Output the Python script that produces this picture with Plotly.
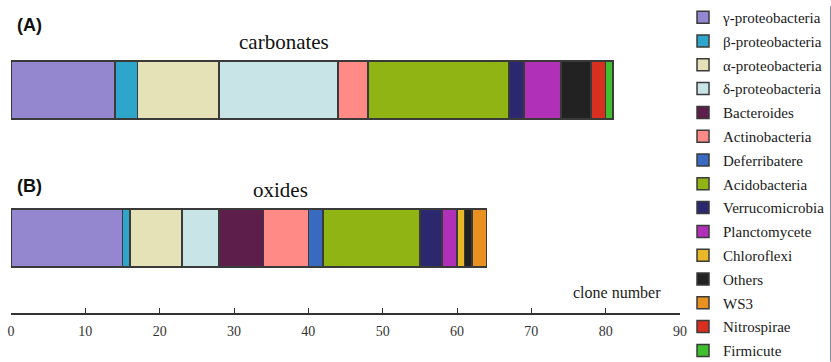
import plotly.graph_objects as go

groups = ["oxides", "carbonates"]
phyla = ["γ-proteobacteria", "β-proteobacteria", "α-proteobacteria", "δ-proteobacteria",
         "Bacteroides", "Actinobacteria", "Deferribatere", "Acidobacteria",
         "Verrucomicrobia", "Planctomycete", "Chloroflexi", "Others", "WS3",
         "Nitrospirae", "Firmicute"]
carbonates = [14, 3, 11, 16, 0, 4, 0, 19, 2, 5, 0, 4, 0, 2, 1]
oxides = [15, 1, 7, 5, 6, 6, 2, 13, 3, 2, 1, 1, 2, 0, 0]
colors = ["#9487d0", "#2ea6cc", "#e6e2b8", "#c8e4e6", "#5e1e4c", "#ff8a86",
          "#3a6abf", "#8fb414", "#2c2870", "#b030b8", "#e8b828", "#222222",
          "#e89020", "#d83020", "#40c030"]
tick_vals = [0, 10, 20, 30, 40, 50, 60, 70, 80, 90]

fig = go.Figure()
for i, name in enumerate(phyla):
    vals = [oxides[i] or None, carbonates[i] or None]
    fig.add_trace(go.Bar(
        y=groups, x=vals, name=name, orientation="h", width=0.39,
        legendgroup=name,
        marker=dict(color=colors[i], line=dict(color="#3a3a3a", width=1.5)),
    ))

serif = "Liberation Serif, Times New Roman, serif"
fig.update_layout(
    width=831, height=362,
    margin=dict(l=11, r=151, t=0, b=49, autoexpand=False),
    barmode="stack",
    plot_bgcolor="white", paper_bgcolor="white",
    showlegend=True,
    legend=dict(x=1.0045, y=0.997, xanchor="left", yanchor="top",
                traceorder="grouped", font=dict(family=serif, size=15, color="#1a1a1a"),
                tracegroupgap=1.3, itemwidth=30, bgcolor="rgba(0,0,0,0)",
                maxheight=362),
    xaxis=dict(range=[0, 90], tickvals=tick_vals, ticks="inside", ticklen=5,
               tickcolor="#333", showline=True, linecolor="#333", linewidth=1.5,
               showgrid=False, zeroline=False, ticklabelstandoff=4,
               tickfont=dict(family=serif, size=14, color="#333")),
    yaxis=dict(range=[-0.507, 1.608], showticklabels=False, showgrid=False,
               zeroline=False, showline=False, ticks=""),
)

ann = [
    dict(text="<b>(A)</b>", x=15, y=25, font=dict(family="Liberation Sans, Arial, sans-serif", size=18, color="#111"), xanchor="left"),
    dict(text="carbonates", x=284, y=42, font=dict(family=serif, size=21, color="#111"), xanchor="center"),
    dict(text="<b>(B)</b>", x=15, y=186, font=dict(family="Liberation Sans, Arial, sans-serif", size=18, color="#111"), xanchor="left"),
    dict(text="oxides", x=280, y=190, font=dict(family=serif, size=21, color="#111"), xanchor="center"),
    dict(text="clone number", x=617, y=292, font=dict(family=serif, size=16, color="#222"), xanchor="center"),
]
for a in ann:
    fig.add_annotation(text=a["text"], xref="paper", yref="paper",
                       x=(a["x"] - 11) / 669, y=(313 - a["y"]) / 313,
                       xanchor=a["xanchor"], yanchor="middle", showarrow=False,
                       font=a["font"])

fig.write_html("out.html", config={"displayModeBar": False},
               post_script="document.body.style.margin='0';")
